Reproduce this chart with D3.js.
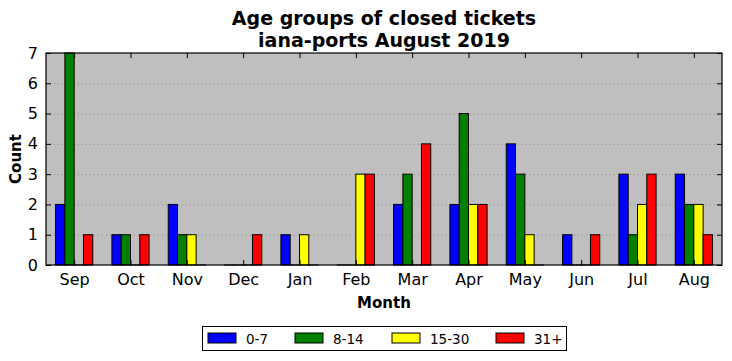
<!DOCTYPE html>
<html><head><meta charset="utf-8">
<script src="https://cdn.jsdelivr.net/npm/d3@7"></script>
<style>body{margin:0;background:#fff;} text{font-family:"DejaVu Sans",sans-serif;}</style>
</head><body><svg id="c" width="732" height="361"></svg>
<script>
const months = ["Sep","Oct","Nov","Dec","Jan","Feb","Mar","Apr","May","Jun","Jul","Aug"];
const seriesNames = ["0-7","8-14","15-30","31+"];
const seriesColors = ["#0000ff","#008000","#ffff00","#ff0000"];
const s0_7   = [2,1,2,0,1,0,2,2,4,1,3,3];
const s8_14  = [7,1,1,0,0,0,3,5,3,0,1,2];
const s15_30 = [0,0,1,0,1,3,0,2,1,0,2,2];
const s31p   = [1,1,0,1,0,3,4,2,0,1,3,1];
const yTicks = [0,1,2,3,4,5,6,7];
const series = [s0_7, s8_14, s15_30, s31p];

const svg = d3.select("#c");
const L=46, R=722, T=53, B=265;
const x = d3.scaleLinear().domain([-0.5, 11.5]).range([L, R]);
const y = d3.scaleLinear().domain([0, 7]).range([B, T]);
const bw = 0.165;

svg.append("rect").attr("x",L).attr("y",T).attr("width",R-L).attr("height",B-T).attr("fill","#bfbfbf");

// grid
svg.append("g").selectAll("line").data(yTicks.slice(1,-1)).join("line")
  .attr("x1",L).attr("x2",R).attr("y1",d=>y(d)+0.5).attr("y2",d=>y(d)+0.5)
  .attr("stroke","#808080").attr("stroke-width",0.8).attr("stroke-dasharray","1,3");

// bars
series.forEach((vals, si) => {
  svg.append("g").selectAll("rect").data(vals).join("rect")
    .attr("x", (d,i) => x(i + (si-2)*bw))
    .attr("width", x(bw) - x(0))
    .attr("y", d => y(d))
    .attr("height", d => Math.max(0.01, y(0)-y(d)))
    .attr("fill", seriesColors[si]).attr("stroke","#000").attr("stroke-width",1);
});

// axes
const xb = d3.axisBottom(x).tickValues(d3.range(12)).tickFormat(i=>months[i]).tickSizeInner(-5).tickSizeOuter(0).tickPadding(9);
const xt = d3.axisTop(x).tickValues(d3.range(12)).tickFormat("").tickSizeInner(-5).tickSizeOuter(0);
const yl = d3.axisLeft(y).tickValues(yTicks).tickFormat(d3.format("d")).tickSizeInner(-5).tickSizeOuter(0).tickPadding(8);
const yr = d3.axisRight(y).tickValues(yTicks).tickFormat("").tickSizeInner(-5).tickSizeOuter(0);
function style(g){ g.select(".domain").remove(); g.selectAll("text").attr("font-size",16).attr("fill","#000").attr("font-family","DejaVu Sans"); g.selectAll("line").attr("stroke","#000"); }
svg.append("g").attr("transform",`translate(0,${B})`).call(xb).call(style);
svg.append("g").attr("transform",`translate(0,${T})`).call(xt).call(style);
svg.append("g").attr("transform",`translate(${L},0)`).call(yl).call(style);
svg.append("g").attr("transform",`translate(${R},0)`).call(yr).call(style);

svg.append("rect").attr("x",L).attr("y",T).attr("width",R-L).attr("height",B-T).attr("fill","none").attr("stroke","#000").attr("stroke-width",1.2);

// titles
svg.append("text").attr("x",384).attr("y",25).attr("text-anchor","middle").attr("font-size",19).attr("font-weight","bold").text("Age groups of closed tickets");
svg.append("text").attr("x",384).attr("y",47).attr("text-anchor","middle").attr("font-size",19).attr("font-weight","bold").text("iana-ports August 2019");
svg.append("text").attr("x",384).attr("y",308).attr("text-anchor","middle").attr("font-size",15).attr("font-weight","bold").text("Month");
svg.append("text").attr("transform","translate(21,159) rotate(-90)").attr("text-anchor","middle").attr("font-size",15).attr("font-weight","bold").text("Count");

// legend
const lg = svg.append("g");
lg.append("rect").attr("x",202.5).attr("y",326.5).attr("width",364).attr("height",24).attr("fill","#fff").attr("stroke","#000").attr("stroke-width",1);
const lx = [208, 295, 392, 496];
seriesNames.forEach((n,i)=>{
  lg.append("rect").attr("x",lx[i]).attr("y",333).attr("width",28).attr("height",10).attr("fill",seriesColors[i]).attr("stroke","#000");
  lg.append("text").attr("x",lx[i]+38).attr("y",343.5).attr("font-size",13.5).text(n);
});
</script></body></html>
